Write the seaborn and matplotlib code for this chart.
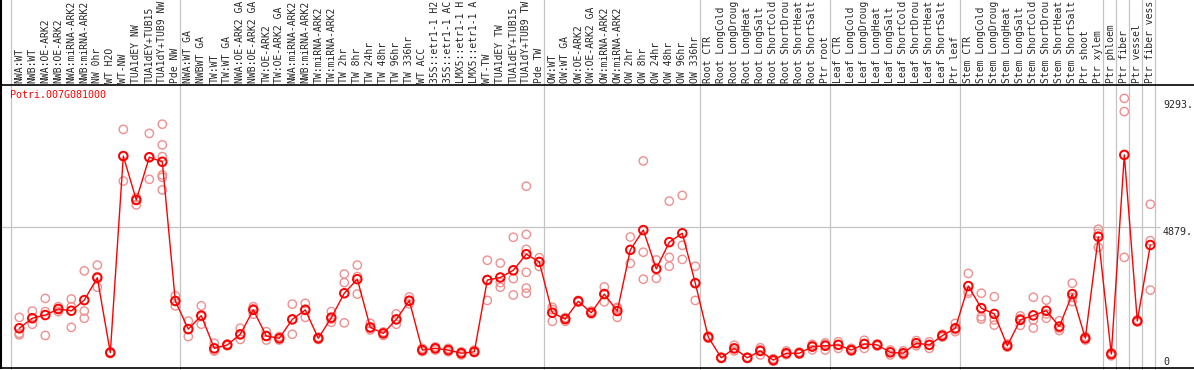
#import libraries
import pandas as pd
import matplotlib
matplotlib.use("Agg")
import matplotlib.pyplot as plt
import matplotlib.transforms as mtransforms
import seaborn as sns

#DATA
gene_id = "Potri.007G081000"

samples = [
    "NWA:WT", "NWB:WT", "NWA:OE-ARK2", "NWB:OE-ARK2", "NWA:miRNA-ARK2", "NWB:miRNA-ARK2",
    "NW 0hr", "WT H2O", "WT-NW", "TUA1dEY NW", "TUA1dEY+TUB15", "TUA1dY+TUB9 NW", "Pde NW",
    "NWA:WT GA", "NWBWT GA", "TW:WT", "TW:WT GA", "NWA:OE-ARK2 GA", "NWB:OE-ARK2 GA",
    "TW:OE-ARK2", "TW:OE-ARK2 GA", "NWA:miRNA-ARK2", "NWB:miRNA-ARK2", "TW:miRNA-ARK2",
    "TW:miRNA-ARK2", "TW 2hr", "TW 8hr", "TW 24hr", "TW 48hr", "TW 96hr", "TW 336hr",
    "WT ACC", "35S::etr1-1 H2", "35S::etr1-1 AC", "LMX5::etr1-1 H", "LMX5::etr1-1 A",
    "WT-TW", "TUA1dEY TW", "TUA1dEY+TUB15", "TUA1dY+TUB9 TW", "Pde TW",
    "OW:WT", "OW:WT GA", "OW:OE-ARK2", "OW:OE-ARK2 GA", "OW:miRNA-ARK2", "OW:miRNA-ARK2",
    "OW 2hr", "OW 8hr", "OW 24hr", "OW 48hr", "OW 96hr", "OW 336hr",
    "Root CTR", "Root LongCold", "Root LongDroug", "Root LongHeat", "Root LongSalt",
    "Root ShortCold", "Root ShortDrou", "Root ShortHeat", "Root ShortSalt", "Ptr root",
    "Leaf CTR", "Leaf LongCold", "Leaf LongDroug", "Leaf LongHeat", "Leaf LongSalt",
    "Leaf ShortCold", "Leaf ShortDrou", "Leaf ShortHeat", "Leaf ShortSalt", "Ptr leaf",
    "Stem CTR", "Stem LongCold", "Stem LongDroug", "Stem LongHeat", "Stem LongSalt",
    "Stem ShortCold", "Stem ShortDrou", "Stem ShortHeat", "Stem ShortSalt", "Ptr shoot",
    "Ptr xylem", "Ptr phloem", "Ptr fiber", "Ptr vessel", "Ptr fiber vess",
]

means = [
    1350, 1700, 1810, 2020, 1960, 2330, 3110, 500, 7350, 5820, 7310, 7150, 2300,
    1320, 1790, 650, 770, 1140, 1990, 1080, 1000, 1660, 1990, 1000, 1720, 2570, 3060,
    1380, 1170, 1660, 2310, 590, 650, 590, 480, 530, 3030, 3120, 3370, 3930, 3660,
    1890, 1670, 2290, 1890, 2540, 1950, 4080, 4770, 3420, 4350, 4660, 2920,
    1040, 320, 650, 320, 560, 240, 480, 480, 710, 740,
    770, 590, 800, 770, 510, 480, 830, 770, 1090, 1350,
    2820, 2050, 1850, 740, 1640, 1800, 1960, 1410, 2540, 1000, 4540,
    450, 7390, 1600, 4250,
]

replicates = [
    [1730, 1170, 1120], [1950, 1490, 1700], [2390, 1930, 1100], [2100, 1930, 2020],
    [2370, 2100, 1380], [3350, 1950, 1700], [3550, 3150, 2780], [520, 470, 500],
    [8280, 6480, 7350], [5900, 5650, 5820], [8140, 6540, 7300],
    [8460, 7740, 7330, 6690, 6610, 6170], [2480, 2130, 2300],
    [1600, 1060, 1320], [2130, 1490, 1760], [830, 560, 570], [800, 740, 770],
    [1350, 960, 1120], [2100, 1840, 2030], [1230, 940, 1080], [1060, 940, 1000],
    [2190, 1140, 1650], [2220, 1730, 2010], [1040, 960, 1000], [1930, 1560, 1670],
    [3240, 2940, 1540], [3550, 3150, 2540], [1520, 1290, 1340], [1220, 1100, 1190],
    [1850, 1490, 1650], [2440, 2290, 2200], [650, 540, 590], [700, 590, 650],
    [650, 530, 590], [530, 420, 480], [590, 500, 520], [3720, 2320, 3050],
    [3620, 2940, 2780], [4520, 3080, 2510], [6300, 4620, 4100, 3300, 2750, 2570],
    [3810, 3500, 3660],
    [2080, 1590, 2000], [1590, 1700, 1720], [2290, 2320, 2260], [1950, 1850, 1880],
    [2790, 2270, 2560], [2080, 1730, 2040], [4530, 3610, 4090], [7180, 4000, 3060],
    [3730, 3090, 3430], [5780, 3820, 3510], [5980, 4240, 3750], [3510, 2320, 2930],
    [1040, 1000, 1080], [330, 300, 340], [760, 560, 640], [320, 300, 340],
    [590, 420, 670], [290, 200, 240], [560, 430, 450], [520, 450, 470],
    [790, 600, 740], [840, 590, 790],
    [880, 650, 780], [650, 560, 560], [930, 650, 820], [730, 790, 790],
    [590, 420, 520], [560, 420, 460], [920, 740, 830], [650, 880, 780],
    [1090, 1040, 1140], [1520, 1230, 1300],
    [3260, 2570, 2640], [2570, 1750, 1670], [2450, 1640, 1460], [690, 800, 730],
    [1780, 1450, 1690], [2430, 1640, 1360], [2330, 1700, 1850], [1610, 1270, 1350],
    [2920, 2280, 2430], [940, 1060, 1000], [4800, 4170, 4650],
    [500, 390, 460], [9360, 8900, 3820], [1640, 1580, 1580], [5670, 4400, 2680],
]

# first sample index of each group (plus the end)
group_starts = [0, 13, 41, 53, 63, 73, 84, 85, 86, 87, 88]
ytick_values = [9293, 4879, 0]
ytick_labels = ["9293.", "4879.", "0"]

#PROCESSING DF
mean_df = pd.DataFrame({"pos": range(len(samples)), "sample": samples, "value": means})
rep_df = pd.DataFrame(
    [(i, v) for i, reps in enumerate(replicates) for v in reps],
    columns=["pos", "value"],
)

#PLOT
sns.set_style("white")
plt.rcParams["font.family"] = ["DejaVu Sans Mono"]

W, H = 1194, 370
fig = plt.figure(figsize=(W / 100, H / 100), dpi=100)
top_px, bottom_px = 85, 368
ax = fig.add_axes([1 / W, 1 - bottom_px / H, 1 - 1 / W, (bottom_px - top_px) / H])

grid_color = "#c4c4c4"
label_area = 1 + top_px / (bottom_px - top_px)
for b in group_starts:
    ax.axvline(b - 0.62, ymin=-0.01, ymax=label_area, color=grid_color, lw=0.9,
               clip_on=False, zorder=0)
ax.hlines(4879, -2, 87.75, color=grid_color, lw=0.9, zorder=0)

sns.scatterplot(data=rep_df, x="pos", y="value", ax=ax, s=36, marker="o",
                facecolors="none", edgecolor="#ef8f8f", linewidth=1.0, zorder=2)
sns.lineplot(data=mean_df, x="pos", y="value", ax=ax, color="red", lw=1.0,
             zorder=3, sort=False)
sns.scatterplot(data=mean_df, x="pos", y="value", ax=ax, s=38, marker="o",
                facecolors="none", edgecolor="red", linewidth=1.4, zorder=4)

# pixel mapping: sample i centred at 19.3 + 13 i px, value 0 at 367 px
ax.set_xlim((1 - 19.3) / 13, (W - 19.3) / 13)
ax.set_ylim((367 - bottom_px) / 0.0287, (367 - top_px) / 0.0287)
ax.set_xticks([])
ax.set_yticks([])
ax.set_xlabel("")
ax.set_ylabel("")
for side in ["left", "top", "bottom"]:
    ax.spines[side].set_color("black")
    ax.spines[side].set_linewidth(1.2)
ax.spines["right"].set_visible(False)

# left border continues through label area
ax.plot([0, 0], [0, label_area], transform=ax.transAxes, color="black", lw=1.5,
        clip_on=False)

trans = mtransforms.blended_transform_factory(ax.transData, ax.transAxes)
for i, name in enumerate(samples):
    ax.text(i, 1 + 2 / (bottom_px - top_px), name, rotation=90, ha="center",
            va="bottom", fontsize=7, transform=trans, clip_on=False)

for v, lab in zip(ytick_values, ytick_labels):
    ax.text(87.98, v, lab, fontsize=7.2, ha="left",
            va="bottom" if v == 0 else "top")

fig.text(10 / W, 1 - 90 / H, gene_id, color="red", fontsize=7.2, ha="left", va="top")

fig.savefig("out.png", dpi=100)
